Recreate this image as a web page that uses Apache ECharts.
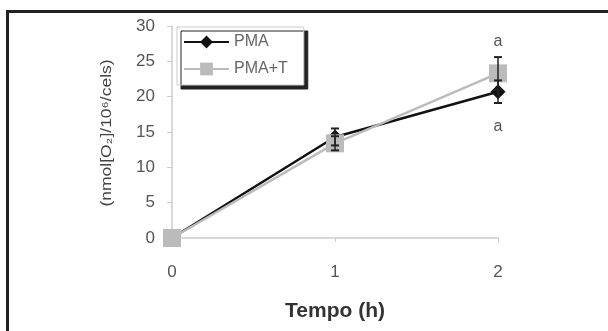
<!DOCTYPE html>
<html>
<head>
<meta charset="utf-8">
<script src="https://cdn.jsdelivr.net/npm/echarts@6/dist/echarts.min.js"></script>
<style>html,body{margin:0;padding:0;background:#fff}#c{width:608px;height:331px}</style>
</head>
<body>
<div id="c"></div>
<script>
var hours = [0, 1, 2];
var pmaMean = [0, 14.3, 20.7];
var pmaErr = [0, 1.2, 1.6];
var pmatMean = [0, 13.4, 23.3];
var pmatErr = [0, 1.0, 2.3];
var pmaLetters = ['', '', 'a'];
var pmatLetters = ['', '', 'a'];
var yTicks = [0, 5, 10, 15, 20, 25, 30];
var yName = '(nmol[O\u2082]/10\u2076/cels)';

var FONT = 'Liberation Sans';
var chart = echarts.init(document.getElementById('c'));

function errSeries(name, mean, err, letters, above) {
  var data = hours.map(function (h, i) { return [h, mean[i], err[i], letters[i]]; });
  return {
    type: 'custom',
    name: name + '_err',
    z: 5,
    data: data,
    renderItem: function (params, api) {
      var x = api.value(0), m = api.value(1), e = api.value(2), lt = data[params.dataIndex][3];
      var top = api.coord([x, m + e]);
      var bot = api.coord([x, m - e]);
      var children = [];
      if (e > 0) {
        children.push({ type: 'line', shape: { x1: top[0], y1: top[1], x2: bot[0], y2: bot[1] }, style: { stroke: '#222', lineWidth: 1.5 } });
        children.push({ type: 'line', shape: { x1: top[0] - 4, y1: top[1], x2: top[0] + 4, y2: top[1] }, style: { stroke: '#222', lineWidth: 2 } });
        children.push({ type: 'line', shape: { x1: bot[0] - 4, y1: bot[1], x2: bot[0] + 4, y2: bot[1] }, style: { stroke: '#222', lineWidth: 2 } });
      }
      if (lt) {
        var p = above ? [top[0], top[1] - 15] : [bot[0], bot[1] + 24];
        children.push({ type: 'text', x: p[0], y: p[1], style: { text: lt, fill: '#555', font: '16px "Liberation Sans", Arial', align: 'center', verticalAlign: 'middle' } });
      }
      return { type: 'group', children: children };
    }
  };
}

chart.setOption({
  animation: false,
  grid: { left: 172, right: 110, top: 26, bottom: 93 },
  graphic: [
    { type: 'rect', shape: { x: 6, y: 10, width: 700, height: 3 }, style: { fill: '#222' } },
    { type: 'rect', shape: { x: 6, y: 10, width: 3, height: 400 }, style: { fill: '#222' } },
    {
      type: 'text', x: 107, y: 133, rotation: Math.PI / 2, scaleX: 1.25,
      style: { text: yName, fill: '#444', font: '14px "Liberation Sans", Arial', align: 'center', verticalAlign: 'middle' }
    }
  ],
  legend: {
    orient: 'vertical',
    left: 177,
    top: 27,
    padding: [7, 16, 8, 6],
    itemWidth: 45,
    itemHeight: 16,
    itemGap: 11,
    backgroundColor: '#fff',
    borderColor: '#ccc',
    borderWidth: 1,
    shadowColor: '#222',
    shadowOffsetX: 4,
    shadowOffsetY: 4,
    shadowBlur: 0,
    textStyle: { color: '#666', fontSize: 16, fontFamily: FONT },
    data: ['PMA', 'PMA+T']
  },
  xAxis: {
    type: 'value', min: 0, max: 2, interval: 1,
    name: 'Tempo (h)', nameLocation: 'middle', nameGap: 63,
    nameTextStyle: { color: '#333', fontSize: 21, fontWeight: 'bold', fontFamily: FONT },
    axisLine: { lineStyle: { color: '#ccc', width: 1.5 } },
    axisTick: { show: true, length: 4, lineStyle: { color: '#ccc' } },
    axisLabel: { color: '#555', fontSize: 17, fontFamily: FONT, margin: 26 },
    splitLine: { show: false }
  },
  yAxis: {
    type: 'value', min: yTicks[0], max: yTicks[yTicks.length - 1], interval: yTicks[1] - yTicks[0],
    axisLine: { show: true, lineStyle: { color: '#ccc', width: 1.5 } },
    axisTick: { show: true, length: 5, lineStyle: { color: '#ccc' } },
    axisLabel: { color: '#555', fontSize: 17, fontFamily: FONT, margin: 17 },
    splitLine: { show: false }
  },
  series: [
    {
      name: 'PMA', type: 'line', z: 3,
      data: hours.map(function (h, i) { return [h, pmaMean[i]]; }),
      symbol: 'diamond', symbolSize: 15,
      lineStyle: { color: '#111', width: 2.5 },
      itemStyle: { color: '#111' }
    },
    {
      name: 'PMA+T', type: 'line', z: 4,
      data: hours.map(function (h, i) { return [h, pmatMean[i]]; }),
      symbol: 'rect', symbolSize: 18,
      lineStyle: { color: '#bbb', width: 2.5 },
      itemStyle: { color: '#bbb' }
    },
    errSeries('PMA', pmaMean, pmaErr, pmaLetters, false),
    errSeries('PMA+T', pmatMean, pmatErr, pmatLetters, true)
  ]
});
</script>
</body>
</html>
